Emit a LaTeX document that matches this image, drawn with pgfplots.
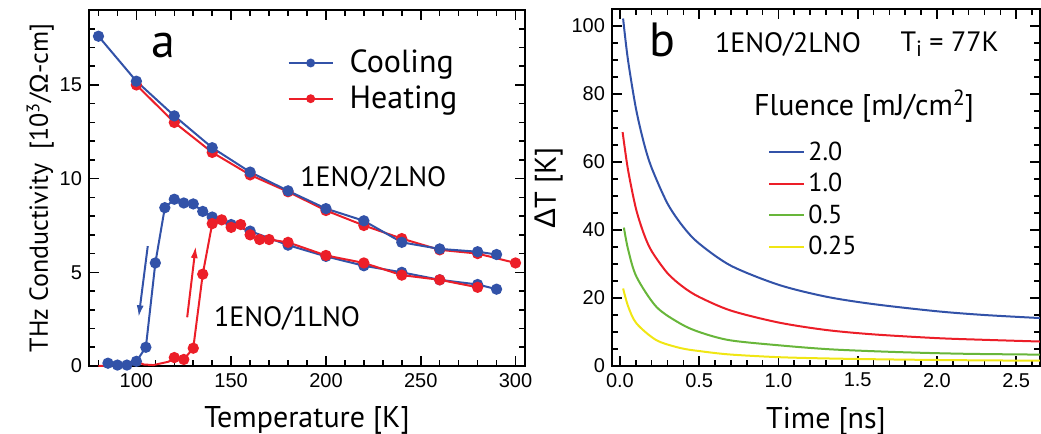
\documentclass[border=0pt]{standalone}
\usepackage{fontspec}
\setmainfont{PT Sans}
\newfontfamily\arialf{Liberation Sans}
\usepackage{pgfplots}
\pgfplotsset{compat=1.18}
\usetikzlibrary{arrows.meta}

\definecolor{cblue}{RGB}{50,82,168}
\definecolor{cred}{RGB}{236,30,40}
\definecolor{cgreen}{RGB}{104,182,58}
\definecolor{cyellow}{RGB}{240,230,20}

\pgfplotsset{
  panel/.style={
    scale only axis,
    axis line style={line width=1.2pt},
    tick align=inside,
    major tick length=5pt, minor tick length=3pt,
    every tick/.style={black, line width=0.8pt},
    tick label style={font=\arialf\fontsize{10}{12}\selectfont},
    /pgf/number format/assume math mode=true,
    label style={font=\fontsize{15}{18}\selectfont},
    xlabel style={yshift=-3pt},
  },
  dots/.style={line width=1pt, mark=*, mark size=2.3pt},
}

\begin{document}
\begin{tikzpicture}
\useasboundingbox (0,0) rectangle (520.5pt,-217pt);

% panel a
\begin{axis}[panel,
  at={(44.5pt,-183pt)}, anchor=south west,
  width=218pt, height=178pt,
  xmin=75, xmax=305, ymin=0, ymax=19,
  xtick={100,150,...,300}, minor xtick={80,90,...,300},
  ytick={0,5,10,15}, minor ytick={1,2,...,18},
  xlabel={Temperature [K]},
  ylabel={THz Conductivity\ \ [10\textsuperscript{3}/{\arialf Ω}-cm]},
  ylabel style={font=\fontsize{13}{15}\selectfont, yshift=-4pt},
  legend style={draw=none, fill=none, at={(0.441,0.911)}, anchor=north west,
    font=\fontsize{16}{18}\selectfont, row sep=1pt, column sep=6pt},
  legend cell align=left,
  legend image code/.code={\draw[mark repeat=2,mark phase=2]
    plot coordinates {(0pt,0pt) (11pt,0pt) (22pt,0pt)};},
]
\addlegendimage{cblue, line width=1pt, mark=*, mark size=1.7pt}
\addlegendentry{Cooling}
\addlegendimage{cred, line width=1pt, mark=*, mark size=1.7pt}
\addlegendentry{Heating}

% 1ENO/2LNO
\addplot[cred, dots, forget plot] coordinates {
(100,15.0) (120,13.0) (140,11.4) (160,10.2) (180,9.3) (200,8.3)
(220,7.5) (240,6.8) (260,6.2) (280,6.0) (300,5.5)};
\addplot[cblue, dots, forget plot] coordinates {
(80,17.6) (100,15.2) (120,13.35) (140,11.65) (160,10.35) (180,9.35) (200,8.4)
(220,7.75) (240,6.6) (260,6.25) (280,6.1) (290,5.95)};

% 1ENO/1LNO
\addplot[cblue, dots, forget plot] coordinates {
(85,0.15) (90,0.05) (95,0.05) (100,0.25) (105,1.0) (110,5.5) (115,8.45)
(120,8.9) (125,8.7) (130,8.65) (135,8.25) (140,7.95) (150,7.55) (160,7.2)
(180,6.45) (200,5.85) (220,5.35) (240,5.0) (260,4.6) (280,4.35) (290,4.1)};
\addplot[cred, line width=1pt, forget plot] coordinates {
(80,0.0) (90,0.03) (96,0.08) (100,0.23) (104,0.08) (109,0.05) (117,0.23) (120,0.45)};
\addplot[cred, dots, forget plot] coordinates {
(120,0.45) (125,0.35) (130,0.95) (135,4.9) (140,7.6) (145,7.8) (150,7.4)
(155,7.55) (160,7.0) (165,6.75) (170,6.75) (180,6.6) (200,5.9) (220,5.5)
(240,4.85) (260,4.6) (280,4.2)};

\draw[cblue, line width=1pt, -{Latex[length=6pt,width=3.5pt]}]
  (axis cs:106,6.4) -- (axis cs:101.2,2.6);
\draw[cred, line width=1pt, -{Latex[length=6pt,width=3.5pt]}]
  (axis cs:126.8,2.6) -- (axis cs:131.3,6.4);

\node[font=\fontsize{24}{26}\selectfont] at (axis cs:114,17.1) {a};
\node[font=\fontsize{14}{16}\selectfont] at (axis cs:225,10.0) {1ENO/2LNO};
\node[font=\fontsize{14}{16}\selectfont] at (axis cs:179.5,2.55) {1ENO/1LNO};
\end{axis}

% panel b
\begin{axis}[panel,
  at={(306pt,-183pt)}, anchor=south west,
  width=214pt, height=178.5pt,
  xmin=-0.05, xmax=2.65, ymin=0, ymax=105,
  xtick={0,0.5,...,2.5}, minor xtick={0,0.1,...,2.6},
  ytick={0,20,...,100}, minor ytick={5,10,...,100},
  xticklabel style={/pgf/number format/.cd, fixed, fixed zerofill, precision=1},
  xlabel={Time [ns]},
  ylabel={{\arialf Δ}T [K]},
  ylabel style={yshift=-2.5pt},
  legend style={draw=none, fill=none, at={(0.35,0.652)}, anchor=north west,
    font=\fontsize{13}{15}\selectfont, row sep=1pt},
  legend cell align=left,
]
\addplot[cblue, line width=1pt, smooth] coordinates {
(0.02,102.2) (0.05,90.3) (0.1,76.0) (0.15,65.8) (0.2,58.3) (0.3,47.8)
(0.4,40.9) (0.5,36.0) (0.7,29.5) (1.0,23.9) (1.3,20.4) (1.6,18.2)
(2.0,16.1) (2.3,15.0) (2.65,14.1)};
\addlegendentry{2.0}
\addplot[cred, line width=1pt, smooth] coordinates {
(0.017,68.8) (0.05,58) (0.1,46.5) (0.15,39) (0.2,33.8) (0.3,27.3)
(0.4,23.2) (0.5,20.3) (0.7,16.3) (1.0,12.8) (1.3,10.6) (1.6,9.3)
(2.0,8.2) (2.3,7.7) (2.65,7.2)};
\addlegendentry{1.0}
\addplot[cgreen, line width=1pt, smooth] coordinates {
(0.025,40.7) (0.053,34) (0.105,26.2) (0.23,17.4) (0.38,12.5) (0.5,10)
(0.69,7.6) (1.0,6.1) (1.33,4.9) (1.75,4.1) (2.17,3.6) (2.65,3.35)};
\addlegendentry{0.5}
\addplot[cyellow, line width=1pt, smooth] coordinates {
(0.02,22.8) (0.053,17.4) (0.105,12.5) (0.23,7.6) (0.38,5.3) (0.5,4.4)
(0.69,3.4) (1.0,2.6) (1.33,2.2) (1.75,1.9) (2.17,1.7) (2.65,1.55)};
\addlegendentry{0.25}

\node[font=\fontsize{24}{26}\selectfont] at (axis cs:0.27,95.8) {b};
\node[font=\fontsize{14}{16}\selectfont] at (axis cs:1.06,94.6) {1ENO/2LNO};
\node[font=\fontsize{14}{16}\selectfont] at (axis cs:2.08,94.6)
  {T\raisebox{-0.4ex}{\fontsize{11}{12}\selectfont i} = 77K};
\node[font=\fontsize{15}{17}\selectfont] at (axis cs:1.54,76.5)
  {Fluence [mJ/cm\raisebox{0.7ex}{\fontsize{11}{12}\selectfont 2}]};
\end{axis}
\end{tikzpicture}
\end{document}
